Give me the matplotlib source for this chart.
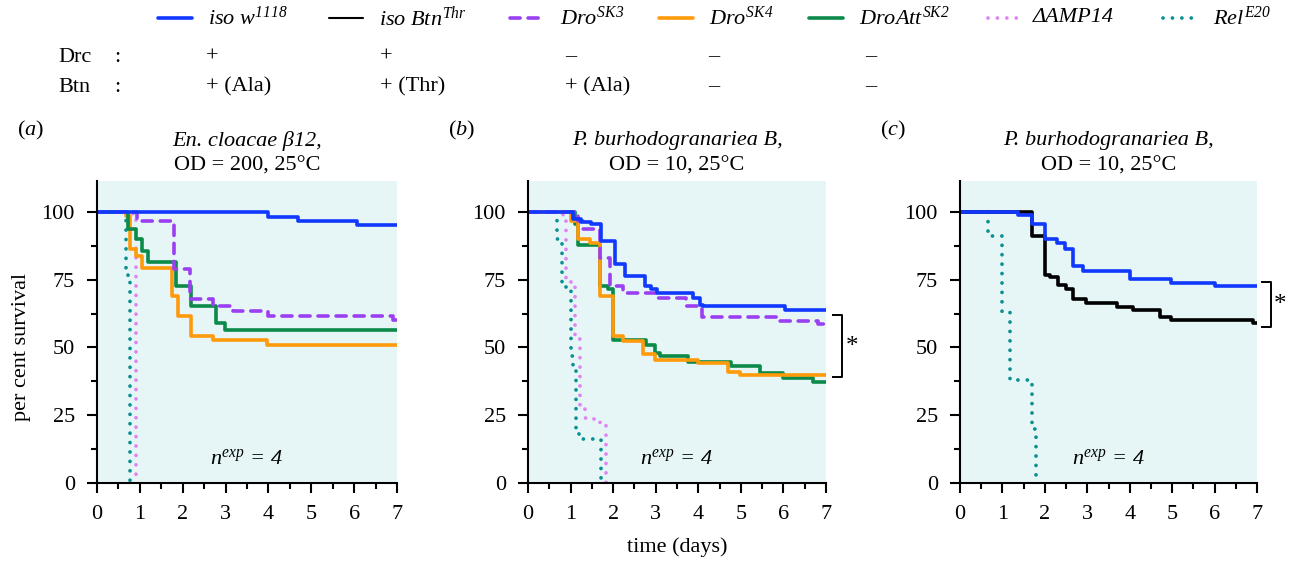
import matplotlib
matplotlib.use('Agg')
import matplotlib.pyplot as plt
from matplotlib.lines import Line2D

plt.rcParams['font.family'] = ['Liberation Serif', 'DejaVu Serif']
plt.rcParams['mathtext.fontset'] = 'custom'
# maths text is all italic (labels, n^exp), sf is used for upright brackets
plt.rcParams['mathtext.rm'] = 'Liberation Serif:italic'
plt.rcParams['mathtext.it'] = 'Liberation Serif:italic'
plt.rcParams['mathtext.sf'] = 'Liberation Serif'
plt.rcParams['font.size'] = 16

# ---- survival data (time in days, per cent survival) ----
# panel (a): En. cloacae b12, OD 200
a_isow_t = [0, 4.0, 4.68, 6.07, 7]
a_isow_s = [100, 98.3, 96.5, 95.1, 95.1]
a_sk3_t = [0, 0.94, 1.8, 2.16, 2.7, 3.17, 4.0, 6.9, 7]
a_sk3_s = [100, 96.5, 78.8, 67.7, 65.2, 63.3, 61.7, 60.2, 60.2]
a_sk4_t = [0, 0.67, 0.78, 0.9, 1.06, 1.76, 1.88, 2.19, 2.7, 3.96, 7]
a_sk4_s = [100, 98.5, 86.2, 83.7, 79.4, 68.9, 61.5, 54.1, 52.6, 51.0, 51.0]
a_att_t = [0, 0.73, 0.9, 1.04, 1.2, 1.84, 2.19, 2.78, 2.98, 7]
a_att_s = [100, 93.8, 89.9, 85.6, 81.5, 72.6, 65.2, 59.0, 56.3, 56.3]
a_amp_t = [0, 0.85, 0.9]
a_amp_s = [100, 97, 0]
a_rel_t = [0, 0.68, 0.73, 0.78]
a_rel_s = [100, 77, 74, 0]

# panel (b): P. burhodogranariea B, OD 10
b_isow_t = [0, 1.06, 1.25, 1.49, 1.72, 2.04, 2.27, 2.74, 2.9, 3.02, 3.88, 4.04, 4.11, 6.03, 7]
b_isow_s = [100, 97.5, 96.3, 95.4, 89.3, 80.6, 76.5, 72.6, 71.4, 70.1, 68.3, 65.8, 65.2, 63.7, 63.7]
b_sk3_t = [0, 1.18, 1.29, 1.68, 1.92, 2.23, 3.02, 3.72, 4.08, 5.84, 6.82, 7]
b_sk3_s = [100, 96.5, 93.8, 83.1, 72.6, 70.1, 68.3, 65.2, 61.2, 59.6, 58.8, 58.8]
b_sk4_t = [0, 1.02, 1.18, 1.45, 1.68, 2.0, 2.23, 2.7, 2.98, 4.0, 4.7, 4.98, 7]
b_sk4_s = [100, 96.7, 90.1, 88.6, 68.9, 54.1, 52.2, 47.7, 45.4, 44.2, 41.1, 39.9, 39.9]
b_att_t = [0, 1.1, 1.18, 1.68, 1.88, 2.0, 2.78, 2.98, 3.1, 3.76, 4.78, 5.45, 6.0, 6.7, 7]
b_att_s = [100, 95.4, 87.7, 72.6, 71.4, 52.6, 51.0, 47.9, 46.7, 44.8, 43.0, 40.5, 38.6, 37.4, 37.4]
b_amp_t = [0, 0.82, 0.9, 1.0, 1.1, 1.21, 1.33, 1.55, 1.68, 1.83]
b_amp_s = [100, 98, 74, 73, 53, 28, 24, 23, 22, 0]
b_rel_t = [0, 0.68, 0.8, 0.9, 1.02, 1.06, 1.12, 1.2, 1.72]
b_rel_s = [100, 90, 73, 71.5, 47, 43, 20, 16.4, 0]

# panel (c): P. burhodogranariea B, OD 10
c_isow_t = [0, 1.37, 1.69, 2.0, 2.28, 2.47, 2.67, 2.9, 4.0, 4.98, 6.0, 7]
c_isow_s = [100, 99, 95.4, 89.9, 88.6, 86.2, 80, 78.1, 75.3, 73.8, 72.6, 72.6]
c_btn_t = [0, 1.69, 2.0, 2.12, 2.32, 2.51, 2.67, 2.98, 3.69, 4.08, 4.71, 4.98, 6.9, 7]
c_btn_s = [100, 91.1, 76.9, 76, 73.2, 71.4, 67.7, 66.4, 64.9, 63.7, 61.2, 60.2, 59, 59]
c_rel_t = [0, 0.67, 0.98, 1.18, 1.69, 1.79]
c_rel_s = [100, 91, 63, 38, 20, 0]

legend_labels = [r'$iso\ w^{1118}$', r'$iso\ Btn^{Thr}$', r'$Dro^{SK3}$',
                 r'$Dro^{SK4}$', r'$DroAtt^{SK2}$', 'ΔAMP14', r'$Rel^{E20}$']
drc_row = ['+', '+', '–', '–', '–']
btn_row = ['+ (Ala)', '+ (Thr)', '+ (Ala)', '–', '–']

panel_letters = ['a', 'b', 'c']
titles1 = ['En. cloacae β12,', 'P. burhodogranariea B,', 'P. burhodogranariea B,']
titles2 = ['OD = 200, 25°C', 'OD = 10, 25°C', 'OD = 10, 25°C']

# ---- styles ----
dotted = (0, (0.01, 2.5))
dashed = (0, (2.8, 2.2))
styles = {
    'isow': dict(color='#1038ff', ls='-', lw=2.6),
    'btn': dict(color='black', ls='-', lw=2.6),
    'sk3': dict(color='#9b3ff2', ls=dashed, lw=2.6),
    'sk4': dict(color='#ff9a0a', ls='-', lw=2.6),
    'att': dict(color='#0b8a4a', ls='-', lw=2.6),
    'amp': dict(color='#df84f2', ls=dotted, lw=2.7),
    'rel': dict(color='#0a9090', ls=dotted, lw=2.7),
}
legend_keys = ['isow', 'btn', 'sk3', 'sk4', 'att', 'amp', 'rel']

panels = [
    [('rel', a_rel_t, a_rel_s), ('amp', a_amp_t, a_amp_s), ('sk4', a_sk4_t, a_sk4_s),
     ('att', a_att_t, a_att_s), ('sk3', a_sk3_t, a_sk3_s), ('isow', a_isow_t, a_isow_s)],
    [('rel', b_rel_t, b_rel_s), ('amp', b_amp_t, b_amp_s), ('att', b_att_t, b_att_s),
     ('sk4', b_sk4_t, b_sk4_s), ('sk3', b_sk3_t, b_sk3_s), ('isow', b_isow_t, b_isow_s)],
    [('rel', c_rel_t, c_rel_s), ('btn', c_btn_t, c_btn_s), ('isow', c_isow_t, c_isow_s)],
]

W, H = 1290, 562
fig = plt.figure(figsize=(W / 100, H / 100), dpi=100)


def fx(px):
    return px / W


def fy(py):
    return 1 - py / H


axes_left = [97, 528, 960]
axes_width = [300, 298, 297]
bg = '#e6f6f6'

for i, ax_left in enumerate(axes_left):
    ax = fig.add_axes([fx(ax_left), fy(483), axes_width[i] / W, (483 - 181) / H])
    ax.set_facecolor(bg)
    for key, t, s in panels[i]:
        st = styles[key]
        ln, = ax.step(t, s, where='post', color=st['color'], linestyle=st['ls'], lw=st['lw'])
        ln.set_dash_capstyle('round')
        ln.set_solid_capstyle('butt')
    ax.set_xlim(0, 7)
    ax.set_ylim(0, 111.4)
    ax.set_xticks(range(8))
    ax.set_xticks([x + 0.5 for x in range(7)], minor=True)
    ax.set_yticks([0, 25, 50, 75, 100])
    ax.set_yticks([12.5, 37.5, 62.5, 87.5], minor=True)
    for sp in ['top', 'right']:
        ax.spines[sp].set_visible(False)
    for sp in ['left', 'bottom']:
        ax.spines[sp].set_linewidth(1.5)
    ax.tick_params(which='major', length=7, width=1.5, labelsize=16)
    ax.tick_params(which='minor', length=4, width=1.5)
    ax.tick_params(axis='y', pad=9)
    ax.tick_params(axis='x', pad=9)
    ax.text(3.5, 9, r'$n^{exp}\,=\,4$', ha='center', va='center', fontsize=16)

    cx = ax_left + axes_width[i] / 2
    fig.text(fx(cx), fy(141), titles1[i], ha='center', va='center', fontsize=16, style='italic')
    fig.text(fx(cx), fy(166), titles2[i], ha='center', va='center', fontsize=16)
    fig.text(fx(ax_left - 80), fy(130), r'$\mathsf{(}%s\mathsf{)}$' % panel_letters[i],
             ha='left', va='center', fontsize=16)

    if i == 1:
        bx, bt, y0, y1, sx, sy = 7.37, 7.16, 39.2, 62.0, 7.6, 50
    elif i == 2:
        bx, bt, y0, y1, sx, sy = 7.32, 7.11, 57.6, 74.3, 7.54, 65.5
    else:
        continue
    ax.plot([bt, bx, bx, bt], [y1, y1, y0, y0], color='black', lw=1.4, clip_on=False)
    ax.text(sx, sy, '*', ha='center', va='center', fontsize=18, clip_on=False)

# y and x labels
fig.text(fx(22), fy(347), 'per cent survival', rotation=90, ha='center', va='center', fontsize=16)
fig.text(fx(677), fy(547), 'time (days)', ha='center', va='center', fontsize=16)

# legend row
leg_x = [158, 329, 510, 659, 809, 988, 1163]
leg_y = 18
for k, lx, lab in zip(legend_keys, leg_x, legend_labels):
    st = styles[k]
    lw = 1.5 if k == 'btn' else st['lw']
    fig.add_artist(Line2D([fx(lx), fx(lx + 34)], [fy(leg_y), fy(leg_y)], transform=fig.transFigure,
                          color=st['color'], linestyle=st['ls'], lw=lw,
                          dash_capstyle='round', solid_capstyle='round'))
    if k == 'amp':
        fig.text(fx(lx + 45), fy(leg_y), lab, ha='left', va='center', fontsize=16, style='italic')
    else:
        fig.text(fx(lx + 50), fy(leg_y), lab, ha='left', va='center', fontsize=16)

# genotype rows
col_x = [206, 380, 565, 708, 865]
fig.text(fx(58), fy(57), 'Drc', ha='left', va='center', fontsize=16)
fig.text(fx(117), fy(57), ':', ha='center', va='center', fontsize=16)
fig.text(fx(58), fy(87), 'Btn', ha='left', va='center', fontsize=16)
fig.text(fx(117), fy(87), ':', ha='center', va='center', fontsize=16)
for cx, d, b in zip(col_x, drc_row, btn_row):
    fig.text(fx(cx), fy(57), d, ha='left', va='center', fontsize=16)
    fig.text(fx(cx), fy(87), b, ha='left', va='center', fontsize=16)

fig.savefig('out.png', dpi=100)
